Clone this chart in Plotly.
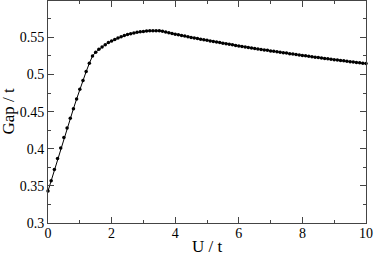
import plotly.graph_objects as go

u_values = [round(i * 0.1, 1) for i in range(101)]
gap_values = [
    0.343, 0.357, 0.372, 0.387, 0.401, 0.415, 0.428, 0.441, 0.454, 0.467,
    0.480, 0.492, 0.504, 0.515, 0.525, 0.530, 0.534, 0.537, 0.540, 0.543,
    0.545, 0.547, 0.549, 0.551, 0.5525, 0.554, 0.555, 0.556, 0.557, 0.5575,
    0.558, 0.5585, 0.5588, 0.559, 0.559, 0.5588, 0.5582, 0.5572, 0.5562, 0.5552,
    0.5543, 0.5534, 0.5525, 0.5517, 0.5508, 0.5500, 0.5492, 0.5484, 0.5476, 0.5468,
    0.5460, 0.5452, 0.5445, 0.5437, 0.5430, 0.5422, 0.5415, 0.5407, 0.5400, 0.5392,
    0.5385, 0.5378, 0.5371, 0.5365, 0.5358, 0.5351, 0.5344, 0.5338, 0.5331, 0.5325,
    0.5318, 0.5312, 0.5306, 0.5300, 0.5294, 0.5288, 0.5281, 0.5275, 0.5269, 0.5263,
    0.5257, 0.5251, 0.5246, 0.5240, 0.5234, 0.5228, 0.5223, 0.5217, 0.5211, 0.5206,
    0.5200, 0.5195, 0.5189, 0.5184, 0.5178, 0.5173, 0.5168, 0.5162, 0.5157, 0.5152,
    0.5147,
]
x_tick_vals = [0, 2, 4, 6, 8, 10]
x_tick_text = ["0", "2", "4", "6", "8", "10"]
y_tick_vals = [0.3, 0.35, 0.4, 0.45, 0.5, 0.55]
y_tick_text = ["0.3", "0.35", "0.4", "0.45", "0.5", "0.55"]
x_title = "U / t"
y_title = "Gap / t"

fig = go.Figure()
fig.add_trace(go.Scatter(
    x=u_values, y=gap_values, mode="lines+markers",
    line=dict(color="black", width=1),
    marker=dict(color="black", size=3.5),
    showlegend=False, cliponaxis=False,
))

font_family = "Liberation Serif, Tinos, Times New Roman, DejaVu Serif, serif"
fig.update_layout(
    width=374, height=253,
    margin=dict(l=48, r=8, t=1, b=30, autoexpand=False),
    paper_bgcolor="white", plot_bgcolor="white",
    font=dict(family=font_family, size=14, color="black"),
)
fig.update_xaxes(
    range=[0, 10], tickvals=x_tick_vals, ticktext=x_tick_text,
    ticks="inside", ticklen=6, tickwidth=1, tickcolor="#444",
    ticklabelstandoff=-3,
    minor=dict(dtick=1, ticks="inside", ticklen=3, tickcolor="#444"),
    showline=True, linecolor="#444", linewidth=1, mirror="ticks",
    showgrid=False, zeroline=False, automargin=False,
)
fig.update_yaxes(
    range=[0.3, 0.599], tickvals=y_tick_vals, ticktext=y_tick_text,
    ticks="inside", ticklen=6, tickwidth=1, tickcolor="#444",
    minor=dict(tickvals=[0.325, 0.375, 0.425, 0.475, 0.525, 0.575], ticks="inside", ticklen=3, tickcolor="#444"),
    showline=True, linecolor="#444", linewidth=1, mirror="ticks",
    showgrid=False, zeroline=False, automargin=False,
)
fig.add_annotation(
    text=x_title, xref="paper", yref="paper", x=0.5, y=-0.104,
    xanchor="center", yanchor="middle", showarrow=False, borderpad=0,
    font=dict(family=font_family, size=17, color="black"),
)
fig.add_annotation(
    text=y_title, xref="paper", yref="paper", x=-0.1226, y=0.502,
    xanchor="center", yanchor="middle", showarrow=False, textangle=-90,
    font=dict(family=font_family, size=17, color="black"),
)

fig.write_html(
    "out.html",
    config={"displayModeBar": False},
    post_script="document.body.style.margin='0';document.body.style.overflow='hidden';",
)
